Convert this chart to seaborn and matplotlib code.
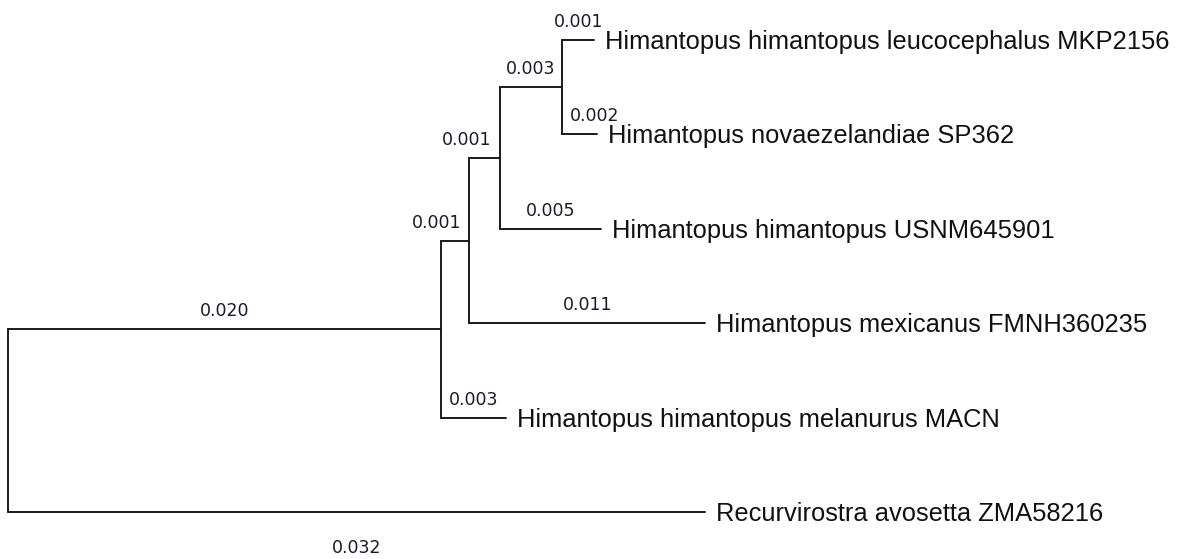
import numpy as np
import pandas as pd
import seaborn as sns
import matplotlib.pyplot as plt

# leaf names, top to bottom
taxa = ["Himantopus himantopus leucocephalus MKP2156",
        "Himantopus novaezelandiae SP362",
        "Himantopus himantopus USNM645901",
        "Himantopus mexicanus FMNH360235",
        "Himantopus himantopus melanurus MACN",
        "Recurvirostra avosetta ZMA58216"]

# tree: every node with its parent and branch length
node_names = ["A", "B", "C", "D"] + taxa
parents = ["root", "A", "B", "C", "D", "D", "C", "B", "A", "root"]
lengths = [0.0200, 0.0013, 0.0014, 0.0029, 0.00145, 0.0016, 0.0047, 0.0109, 0.0030, 0.0322]
branch_labels = ["0.020", "0.001", "0.001", "0.003", "0.001", "0.002",
                 "0.005", "0.011", "0.003", "0.032"]

# where the length label goes: default centered above the branch
label_style = {"B": ("right", -8, 13), "C": ("right", -8, 13),
               taxa[1]: ("left", 7, 13), taxa[5]: ("center", 0, -41)}

parent_of = dict(zip(node_names, parents))
length_of = dict(zip(node_names, lengths))

# x = distance from root
xpos = {"root": 0.0}
for n in node_names:
    xpos[n] = xpos[parent_of[n]] + length_of[n]

# y: leaves by order, internal nodes midway between children
ypos = {t: i for i, t in enumerate(taxa)}
children = {}
for n, p in zip(node_names, parents):
    children.setdefault(p, []).append(n)
for n in ["D", "C", "B", "A", "root"]:
    ys = [ypos[c] for c in children[n]]
    ypos[n] = (min(ys) + max(ys)) / 2

rows = []
seg = 0
for n in node_names:
    p = parent_of[n]
    rows += [(seg, xpos[p], ypos[n]), (seg, xpos[n], ypos[n])]
    seg += 1
for n, kids in children.items():
    ys = [ypos[c] for c in kids]
    rows += [(seg, xpos[n], min(ys)), (seg, xpos[n], max(ys))]
    seg += 1
segs = pd.DataFrame(rows, columns=["seg", "x", "y"])

sns.set_theme(style="white")
plt.rcParams["font.family"] = ["DejaVu Sans"]

fig = plt.figure(figsize=(11.77, 5.59), dpi=100)
ax = fig.add_axes([0, 0, 1, 1])
sns.lineplot(data=segs, x="x", y="y", units="seg", estimator=None, sort=False,
             color="#1a1a1a", linewidth=1.4, ax=ax, legend=False)

px = 21640.0  # pixels per unit length
ax.set_xlim(-8.5 / px, (1177 - 8.5) / px)
ax.set_ylim((559 - 40) / 94.4, -40 / 94.4)
ax.axis("off")

for n, lab in zip(node_names, branch_labels):
    ha, dx, dy = label_style.get(n, ("center", 0, 13))
    if ha == "right":
        x = xpos[n]
    elif ha == "left":
        x = xpos[parent_of[n]]
    else:
        x = (xpos[n] + xpos[parent_of[n]]) / 2
    ax.annotate(lab, (x, ypos[n]), xytext=(dx, dy), textcoords="offset pixels",
                ha=ha, va="baseline", fontsize=12.5, color="#1a1a2a")

for t in taxa:
    ax.annotate(t, (xpos[t], ypos[t]), xytext=(11, -9), textcoords="offset pixels",
                ha="left", va="baseline", fontsize=18.4, color="#111111",
                family=["Liberation Sans", "DejaVu Sans"])

fig.savefig("out.png", dpi=100)
